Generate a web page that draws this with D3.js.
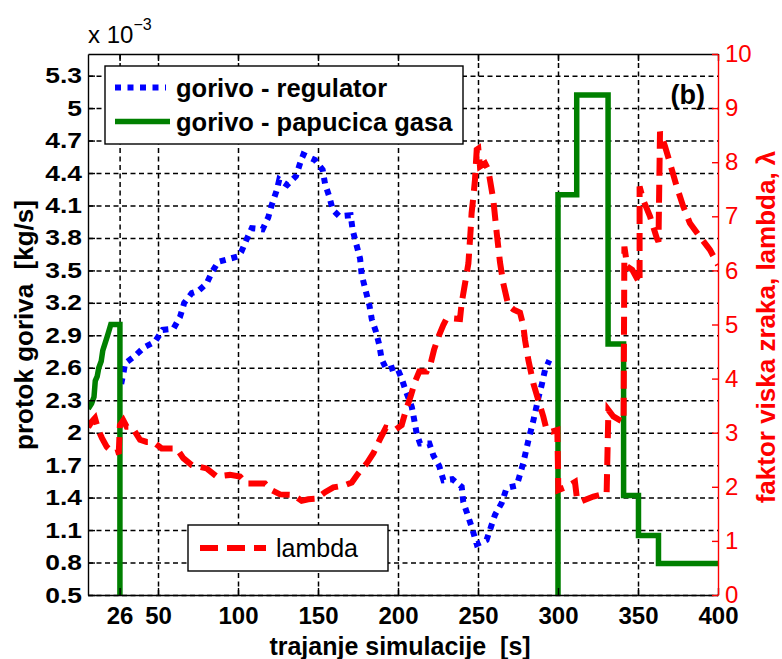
<!DOCTYPE html>
<html><head><meta charset="utf-8">
<script src="https://cdn.jsdelivr.net/npm/d3@7"></script>
<style>
body{margin:0;background:#fff}
svg{display:block}
text{font-family:"Liberation Sans",Arial,sans-serif;white-space:pre}
</style>
</head><body><svg id="c" width="782" height="659"></svg>
<script>
// ---------- data ----------
const xTicks = [26, 50, 100, 150, 200, 250, 300, 350, 400];
const yLeftTicks = [0.5, 0.8, 1.1, 1.4, 1.7, 2, 2.3, 2.6, 2.9, 3.2, 3.5, 3.8, 4.1, 4.4, 4.7, 5, 5.3];
const yRightTicks = [0, 1, 2, 3, 4, 5, 6, 7, 8, 9, 10];
const seriesNames = ["gorivo - regulator", "gorivo - papucica gasa", "lambda"];

// fuel flow from regulator [x 10^-3 kg/s]
const regulator = [[27,2.45],[28.5,2.56],[29.4,2.64],[35.6,2.71],[41.4,2.79],[48.1,2.84],[52.9,2.95],[59.6,2.96],
 [63.75,3.07],[66.4,3.2],[71.1,3.29],[75.2,3.31],[80.4,3.38],[83.6,3.48],[87.7,3.58],[92.9,3.6],[100.2,3.63],
 [102,3.67],[105.2,3.78],[108.6,3.89],[115.4,3.88],[118.9,3.99],[121,4.1],[124.2,4.24],[125.8,4.34],[130.8,4.29],
 [136.2,4.37],[138.8,4.49],[140.8,4.57],[148.1,4.52],[152.9,4.43],[154.4,4.3],[157.1,4.18],[159.2,4.06],[163.3,4.0],
 [170.4,4.01],[171.7,3.87],[173.8,3.75],[176.3,3.61],[177.3,3.46],[180,3.3],[182.1,3.18],[183.6,3.05],[186.3,2.93],
 [188.3,2.81],[189.8,2.68],[192.9,2.58],[199.2,2.61],[202.3,2.5],[205,2.38],[208.6,2.24],[210,2.13],[211.7,1.99],
 [213.8,1.9],[219.6,1.9],[222.1,1.79],[225.8,1.69],[228.4,1.56],[234,1.57],[239.8,1.5],[240.8,1.36],[244,1.22],
 [246,1.13],[249.2,0.97],[255.4,1.01],[260.6,1.24],[264.8,1.35],[267.9,1.49],[274.2,1.51],[278.3,1.72],[281.5,1.93],
 [284.4,2.1],[285.8,2.19],[287.7,2.32],[289.8,2.44],[291.9,2.58],[294.6,2.67]];

// fuel flow from gas pedal [x 10^-3 kg/s]
const papucica = [[6.4,2.22],[8.5,2.27],[10,2.33],[10.8,2.48],[12,2.52],[13,2.6],[14.5,2.66],[15.5,2.76],[17,2.83],
 [18.5,2.9],[20.5,3.0],[26.2,3.0],[26.2,0],[300,0],[300,4.2],[311.7,4.2],[311.7,5.12],[331.3,5.12],[331.3,2.82],
 [341,2.82],[341,1.42],[350.3,1.42],[350.3,1.05],[362.8,1.05],[362.8,0.79],[400,0.79]];

// air excess factor lambda
const lambda = [[6.4,3.1],[8.5,3.2],[10.6,3.27],[12.7,3.05],[15,2.9],[17.9,2.74],[22.1,2.62],[25.5,2.65],[26.2,3.14],
 [28.3,3.23],[30.4,3.11],[33.6,3.11],[38.75,2.87],[42.9,2.83],[47.1,2.83],[52.3,2.71],[61.7,2.71],[65.8,2.53],
 [71.1,2.4],[80.4,2.34],[86.7,2.19],[95,2.22],[101.25,2.19],[105.4,2.06],[116.9,2.06],[121,1.94],[126.25,1.86],
 [134.6,1.85],[139.8,1.74],[143.9,1.77],[149.2,1.78],[154.4,1.9],[159.6,1.99],[165.8,2.02],[171.1,2.08],[175.2,2.25],
 [180.4,2.43],[184.6,2.62],[188.75,2.88],[192.4,3.09],[198.1,3.05],[202.3,3.14],[205,3.42],[207.9,3.67],[210.6,3.94],
 [213.3,4.13],[217.9,4.13],[220.4,4.28],[222.5,4.53],[225.2,4.77],[228.3,4.99],[230.4,5.11],[234.6,5.11],[238.75,5.1],
 [239.8,5.4],[241.9,5.76],[244,6.13],[245.4,6.75],[246,7.06],[247.1,7.36],[248.1,7.67],[249.2,8.23],[250.2,8.25],
 [251.25,7.92],[254.4,7.98],[256.4,7.86],[259.6,7.3],[261.7,6.69],[263.75,6.15],[265.8,5.76],[268.9,5.36],[272.1,5.28],
 [276.25,5.22],[278.3,4.98],[279.4,4.71],[281.5,4.34],[284.6,3.91],[287.7,3.6],[290.8,3.3],[292.9,3.05],[296,3.02],
 [299.6,3.05],[300.2,1.94],[305.4,2.0],[310.6,2.09],[311.7,1.82],[313.75,1.72],[322.1,1.82],[330.4,1.88],[331.5,3.42],
 [334.6,3.3],[338.75,3.23],[341,3.2],[341.5,6.44],[343.3,6.07],[346.4,6.01],[351,5.76],[351,7.55],[353.3,7.3],
 [357.5,7.0],[361.7,6.6],[362.8,6.53],[363.75,8.56],[366.9,8.29],[370,7.98],[374.2,7.55],[378.3,7.18],[382.5,6.87],
 [388.75,6.62],[395,6.38],[400,6.1]];

// ---------- layout ----------
const m = {l: 88, r: 718, t: 54, b: 595};
const x = d3.scaleLinear().domain([6.25, 400]).range([m.l, m.r]);
const yL = d3.scaleLinear().domain([0.5, 5.5]).range([m.b, m.t]);
const yR = d3.scaleLinear().domain([0, 10]).range([m.b, m.t]);

const svg = d3.select("#c");
svg.append("rect").attr("width", 782).attr("height", 659).attr("fill", "#fff");
svg.append("defs").append("clipPath").attr("id", "clip")
  .append("rect").attr("x", m.l).attr("y", m.t).attr("width", m.r - m.l).attr("height", m.b - m.t);

// grid
const gx = svg.append("g").attr("transform", `translate(0,${m.b})`)
  .call(d3.axisBottom(x).tickValues(xTicks.filter(d => d < 400)).tickSize(-(m.b - m.t)).tickFormat(""));
const gy = svg.append("g").attr("transform", `translate(${m.l},0)`)
  .call(d3.axisLeft(yL).tickValues(yLeftTicks).tickSize(-(m.r - m.l)).tickFormat(""));
[gx, gy].forEach(g => {
  g.select(".domain").remove();
  g.selectAll("line").attr("stroke", "#000").attr("stroke-width", 1.5).attr("stroke-dasharray", "5,3.5");
});

// data lines
const plot = svg.append("g").attr("clip-path", "url(#clip)");
const lineL = d3.line().x(d => x(d[0])).y(d => yL(d[1]));
const lineR = d3.line().x(d => x(d[0])).y(d => yR(d[1]));
plot.append("path").datum(regulator).attr("d", lineL).attr("fill", "none")
  .attr("stroke", "#0000ff").attr("stroke-width", 6).attr("stroke-dasharray", "6,6");
plot.append("path").datum(papucica).attr("d", lineL).attr("fill", "none")
  .attr("stroke", "#008000").attr("stroke-width", 5.5).attr("stroke-linejoin", "miter");
plot.append("path").datum(lambda).attr("d", lineR).attr("fill", "none")
  .attr("stroke", "#ff0000").attr("stroke-width", 6).attr("stroke-dasharray", "18,9");

// axes
const fontTick = g => g.selectAll("text").attr("fill", "#000").style("font-size", "24px").style("font-weight", "bold");
const ax = svg.append("g").attr("transform", `translate(0,${m.b})`)
  .call(d3.axisBottom(x).tickValues(xTicks).tickSize(-7).tickSizeOuter(0).tickPadding(12).tickFormat(d3.format("d")));
ax.call(fontTick);
const at = svg.append("g").attr("transform", `translate(0,${m.t})`)
  .call(d3.axisTop(x).tickValues(xTicks).tickSize(-7).tickSizeOuter(0).tickFormat(""));
const al = svg.append("g").attr("transform", `translate(${m.l},0)`)
  .call(d3.axisLeft(yL).tickValues(yLeftTicks).tickSize(-7).tickSizeOuter(0).tickPadding(6).tickFormat(d => String(d)));
al.selectAll("text").attr("x", 0).attr("transform", "translate(-6,0) scale(1.2,1)")
  .attr("fill", "#000").style("font-size", "22px").style("font-weight", "bold");
const ar = svg.append("g").attr("transform", `translate(${m.r},0)`)
  .call(d3.axisRight(yR).tickValues(yRightTicks).tickSize(-6).tickSizeOuter(0).tickPadding(7).tickFormat(d3.format("d")));
ar.selectAll("text").attr("fill", "#ff0000").style("font-size", "24px");
ar.selectAll("line").attr("stroke", "#ff0000").attr("stroke-width", 1.4);
ar.select(".domain").attr("stroke", "#ff0000").attr("stroke-width", 1.4);
[ax, at, al].forEach(g => {
  g.selectAll("line").attr("stroke", "#000").attr("stroke-width", 1.4);
  g.select(".domain").attr("stroke", "#000").attr("stroke-width", 1.4);
});

// exponent
const ex = svg.append("text").attr("x", 88).attr("y", 43).style("font-size", "24px").attr("fill", "#000");
ex.append("tspan").text("x 10");
ex.append("tspan").attr("dy", -13).style("font-size", "16px").text("\u22123");

// (b)
svg.append("text").attr("x", 705).attr("y", 104).attr("text-anchor", "end")
  .style("font-size", "27px").style("font-weight", "bold").text("(b)");

// legend 1
const lg = svg.append("g");
lg.append("rect").attr("x", 105).attr("y", 66).attr("width", 358).attr("height", 78)
  .attr("fill", "#fff").attr("stroke", "#000").attr("stroke-width", 1.4);
lg.append("line").attr("x1", 115).attr("x2", 166).attr("y1", 87.5).attr("y2", 87.5)
  .attr("stroke", "#0000ff").attr("stroke-width", 6).attr("stroke-dasharray", "6,6.5");
lg.append("line").attr("x1", 115).attr("x2", 170).attr("y1", 121.5).attr("y2", 121.5)
  .attr("stroke", "#008000").attr("stroke-width", 5.5);
lg.append("text").attr("x", 176).attr("y", 97).style("font-size", "25.5px").style("font-weight", "bold").text(seriesNames[0]);
lg.append("text").attr("x", 176).attr("y", 131).style("font-size", "25.5px").style("font-weight", "bold").text(seriesNames[1]);

// legend 2
const lg2 = svg.append("g");
lg2.append("rect").attr("x", 188).attr("y", 525).attr("width", 200).attr("height", 46)
  .attr("fill", "#fff").attr("stroke", "#000").attr("stroke-width", 1.4);
lg2.append("line").attr("x1", 200).attr("x2", 266).attr("y1", 548).attr("y2", 548)
  .attr("stroke", "#ff0000").attr("stroke-width", 6).attr("stroke-dasharray", "18,9");
lg2.append("text").attr("x", 276).attr("y", 557).style("font-size", "25px").text(seriesNames[2]);

// axis titles
svg.append("text").attr("transform", "translate(400,655)").attr("text-anchor", "middle")
  .style("font-size", "25px").style("font-weight", "bold").text("trajanje simulacije  [s]");
svg.append("text").attr("transform", "translate(33,325) rotate(-90)").attr("text-anchor", "middle")
  .style("font-size", "26px").style("font-weight", "bold").text("protok goriva  [kg/s]");
svg.append("text").attr("transform", "translate(775,327) rotate(-90)").attr("text-anchor", "middle")
  .attr("fill", "#ff0000").style("font-size", "26px").style("font-weight", "bold").text("faktor viska zraka, lambda, \u03bb");
</script>
</body></html>
